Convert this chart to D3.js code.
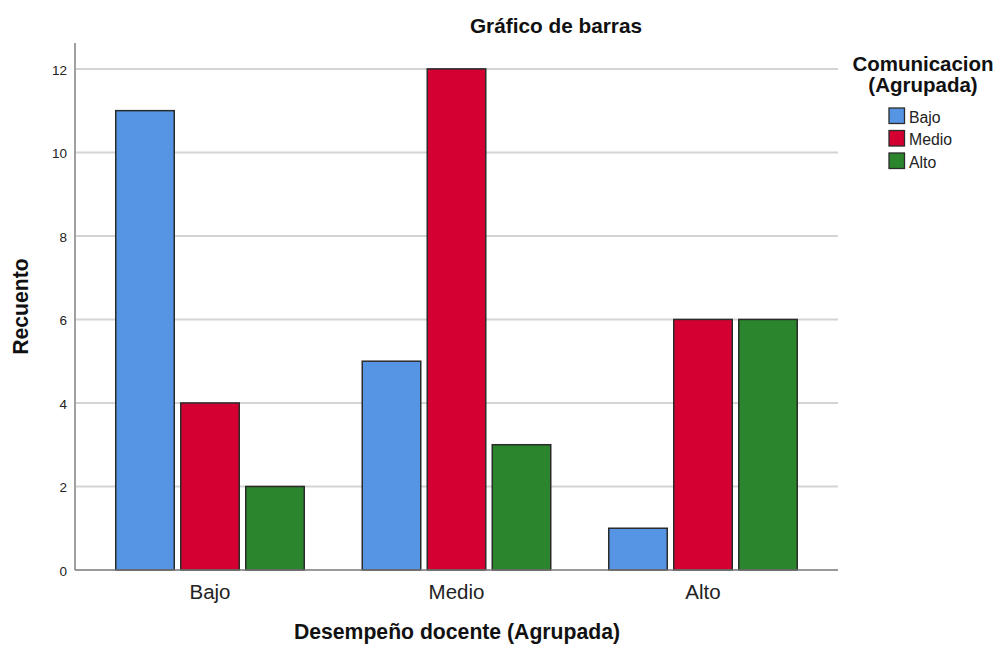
<!DOCTYPE html>
<html>
<head>
<meta charset="utf-8">
<script src="https://cdn.jsdelivr.net/npm/d3@7/dist/d3.min.js"></script>
<style>
  html, body { margin: 0; padding: 0; background: #fff; }
  svg { display: block; font-family: "Liberation Sans", Arial, sans-serif; }
</style>
</head>
<body>
<svg id="chart" width="999" height="646"></svg>
<script>
// ---- Data ----
const categories = ["Bajo", "Medio", "Alto"];            // Desempeño docente (Agrupada)
const seriesNames = ["Bajo", "Medio", "Alto"];           // Comunicacion (Agrupada)
const valuesBajo  = [11, 5, 1];
const valuesMedio = [4, 12, 6];
const valuesAlto  = [2, 3, 6];
const yTicks = [0, 2, 4, 6, 8, 10, 12];
const colors = ["#5595e3", "#d50032", "#2a852c"];
const title = "Gráfico de barras";
const xTitle = "Desempeño docente (Agrupada)";
const yTitle = "Recuento";
const legendTitle = ["Comunicacion", "(Agrupada)"];

const seriesValues = [valuesBajo, valuesMedio, valuesAlto];

// ---- Layout ----
const svg = d3.select("#chart");
const plot = { left: 75, right: 838, top: 43, bottom: 570 };
const yMax = 12.62;

const y = d3.scaleLinear().domain([0, yMax]).range([plot.bottom, plot.top]);
const x0 = d3.scaleBand().domain(categories).range([86.75, 826.25]).padding(0);
const x1 = d3.scaleBand().domain(seriesNames).range([0, x0.bandwidth()])
  .paddingInner(0.1).paddingOuter(0.446);

// gridlines
svg.append("g").selectAll("line").data(yTicks.filter(d => d > 0)).join("line")
  .attr("x1", plot.left).attr("x2", plot.right)
  .attr("y1", d => y(d)).attr("y2", d => y(d))
  .attr("stroke", "#d4d4d4").attr("stroke-width", 2);

// y axis
const yAxis = d3.axisLeft(y).tickValues(yTicks).tickSize(0).tickPadding(8).tickFormat(d3.format("d"));
const gy = svg.append("g").attr("transform", `translate(${plot.left},0)`).call(yAxis);
gy.select(".domain").remove();
gy.selectAll("text").attr("font-size", 13.5).attr("fill", "#222")
  .attr("font-family", "Liberation Sans, Arial, sans-serif").attr("dy", "0.4em");
svg.append("line").attr("x1", plot.left).attr("x2", plot.left)
  .attr("y1", plot.top).attr("y2", plot.bottom)
  .attr("stroke", "#a0a0a0").attr("stroke-width", 2);

// bars
const groups = svg.append("g").selectAll("g").data(categories).join("g")
  .attr("transform", d => `translate(${x0(d)},0)`);
groups.selectAll("rect")
  .data((c, ci) => seriesNames.map((s, si) => ({ s, si, v: seriesValues[si][ci] })))
  .join("rect")
  .attr("x", d => x1(d.s))
  .attr("width", x1.bandwidth())
  .attr("y", d => y(d.v))
  .attr("height", d => y(0) - y(d.v))
  .attr("fill", d => colors[d.si])
  .attr("stroke", "#2b2b2b").attr("stroke-width", 1.5);

// x axis
const xAxis = d3.axisBottom(x0).tickSize(0).tickPadding(14);
const gx = svg.append("g").attr("transform", `translate(0,${plot.bottom})`).call(xAxis);
gx.select(".domain").remove();
gx.selectAll("text").attr("font-size", 20.5).attr("fill", "#222")
  .attr("font-family", "Liberation Sans, Arial, sans-serif");
svg.append("line").attr("x1", plot.left).attr("x2", plot.right)
  .attr("y1", plot.bottom).attr("y2", plot.bottom)
  .attr("stroke", "#777").attr("stroke-width", 1.5);

// titles
svg.append("text").attr("x", 556).attr("y", 33).attr("text-anchor", "middle")
  .attr("font-size", 20.8).attr("font-weight", "bold").attr("fill", "#111").text(title);
svg.append("text").attr("x", 457).attr("y", 639).attr("text-anchor", "middle")
  .attr("font-size", 21.2).attr("font-weight", "bold").attr("fill", "#111").text(xTitle);
svg.append("text").attr("transform", "translate(28,306.5) rotate(-90)").attr("text-anchor", "middle")
  .attr("font-size", 21.2).attr("font-weight", "bold").attr("fill", "#111").text(yTitle);

// legend
const lg = svg.append("g");
lg.selectAll("text.lt").data(legendTitle).join("text").attr("class", "lt")
  .attr("x", 923).attr("y", (d, i) => 71 + i * 21).attr("text-anchor", "middle")
  .attr("font-size", 20.5).attr("font-weight", "bold").attr("fill", "#111").text(d => d);
const rows = lg.selectAll("g.row").data(seriesNames).join("g").attr("class", "row")
  .attr("transform", (d, i) => `translate(889,${108 + i * 22.5})`);
rows.append("rect").attr("width", 15.5).attr("height", 15.5)
  .attr("fill", (d, i) => colors[i]).attr("stroke", "#2b2b2b").attr("stroke-width", 1.3);
rows.append("text").attr("x", 20).attr("y", 14.5)
  .attr("font-size", 15.8).attr("fill", "#222").text(d => d);
</script>
</body>
</html>
